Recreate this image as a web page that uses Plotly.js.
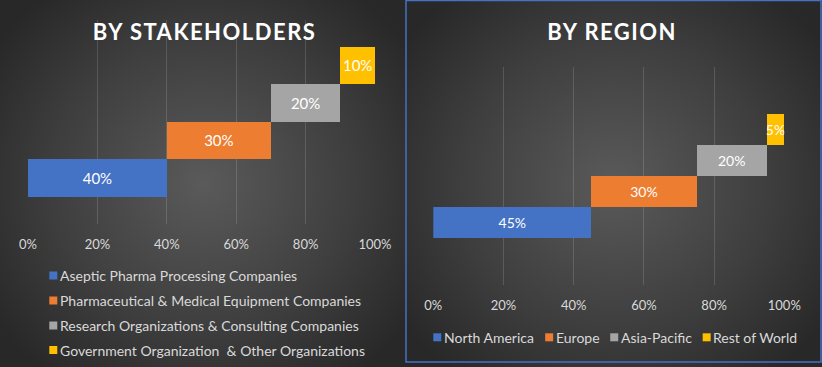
<!DOCTYPE html>
<html>
<head>
<meta charset="utf-8">
<script src="https://cdn.plot.ly/plotly-3.0.1.min.js"></script>
<style>
  html, body { margin: 0; padding: 0; background: #2a2a2a; }
  #wrap { position: relative; width: 822px; height: 367px; overflow: hidden; }
  .bg { position: absolute; top: 0; height: 367px; }
  #bgL { left: 0; width: 406px; background: radial-gradient(ellipse 62% 66% at 50% 50%, #5a5a5a 0%, #3e3e3e 60%, #282828 100%); }
  #bgR { left: 406px; width: 416px; background: radial-gradient(ellipse 62% 66% at 50% 50%, #5a5a5a 0%, #3e3e3e 60%, #282828 100%); }
  #chart { position: absolute; left: 0; top: 0; width: 822px; height: 367px; }
  #chart .annotation-text.title-text { letter-spacing: 1.5px; }
</style>
</head>
<body>
<div id="wrap">
  <div class="bg" id="bgL"></div>
  <div class="bg" id="bgR"></div>
  <div id="chart"></div>
</div>
<script>
// ---- data ----
const stakeCats = [
  "Aseptic Pharma Processing Companies",
  "Pharmaceutical & Medical Equipment Companies",
  "Research Organizations & Consulting Companies",
  "Government Organization  & Other Organizations"
];
const stakeVals = [40, 30, 20, 10];
const regionCats = ["North America", "Europe", "Asia-Pacific", "Rest of World"];
const regionVals = [45, 30, 20, 5];
const tickVals = [0, 20, 40, 60, 80, 100];
const tickText = ["0%", "20%", "40%", "60%", "80%", "100%"];
const colors = ["#4472C4", "#ED7D31", "#A5A5A5", "#FFC000"];

const FONT = "Lato, 'Open Sans', sans-serif";
const W = 822, H = 367;
const px = v => v / W;
const py = v => (H - v) / H;
const LEGFS = 14;

function buildTraces(cats, vals, xa, ya, fontSize) {
  const traces = [];
  let cum = 0;
  cats.forEach((c, i) => {
    traces.push({
      type: "bar",
      orientation: "h",
      name: c,
      x: [vals[i]],
      base: [cum],
      y: [i],
      width: [1],
      xaxis: xa,
      yaxis: ya,
      showlegend: false,
      marker: { color: colors[i], line: { width: 0 } },
      text: [vals[i] + "%"],
      textposition: "inside",
      insidetextanchor: "middle",
      textangle: 0,
      constraintext: "none",
      textfont: { color: "#ffffff", size: fontSize, family: FONT },
      hoverinfo: "skip"
    });
    cum += vals[i];
  });
  return traces;
}

const data = [].concat(
  buildTraces(stakeCats, stakeVals, "x", "y", 15),
  buildTraces(regionCats, regionVals, "x2", "y2", 14)
);

const xCommon = {
  range: [0, 100],
  tickvals: tickVals,
  ticktext: tickText,
  showgrid: true,
  gridcolor: "rgba(255,255,255,0.14)",
  gridwidth: 1,
  zeroline: false,
  showline: false,
  ticks: "",
  tickfont: { color: "#d9d9d9", size: 13, family: FONT },
  fixedrange: true,
  automargin: false
};
const yCommon = {
  showgrid: false, zeroline: false, showline: false,
  showticklabels: false, ticks: "", fixedrange: true, automargin: false
};

// ---- titles, frame, legends drawn with shapes + annotations ----
const annotations = [
  { text: "<b>BY STAKEHOLDERS</b>", xref: "paper", yref: "paper", x: px(204), y: py(31),
    xanchor: "center", yanchor: "middle", showarrow: false,
    font: { color: "#ffffff", size: 22, family: FONT } },
  { text: "<b>BY REGION</b>", xref: "paper", yref: "paper", x: px(612), y: py(31),
    xanchor: "center", yanchor: "middle", showarrow: false,
    font: { color: "#ffffff", size: 22, family: FONT } }
];
const shapes = [
  { type: "rect", xref: "paper", yref: "paper",
    x0: px(406), x1: px(821), y0: py(362), y1: py(0.5),
    line: { color: "#4472C4", width: 1.5 }, fillcolor: "rgba(0,0,0,0)", layer: "above" }
];
const SQ = 8, GAP = 3.5, ITEMGAP = 10;
function legendSquare(cx, cy, color) {
  shapes.push({ type: "rect", xref: "paper", yref: "paper",
    x0: px(cx - SQ / 2), x1: px(cx + SQ / 2), y0: py(cy + SQ / 2), y1: py(cy - SQ / 2),
    line: { width: 0 }, fillcolor: color, layer: "above" });
}
function legendText(x, cy, txt) {
  annotations.push({ text: txt.replace(/  /g, " &nbsp;"), xref: "paper", yref: "paper", x: px(x), y: py(cy),
    xanchor: "left", yanchor: "middle", showarrow: false,
    font: { color: "#d9d9d9", size: LEGFS, family: FONT } });
}
// left: vertical legend
const leftRows = [275.5, 300.5, 325.5, 350];
stakeCats.forEach((c, i) => {
  legendSquare(53.3, leftRows[i], colors[i]);
  legendText(53.3 + SQ / 2 + GAP - 3, leftRows[i], c);
});
// right: horizontal legend, centered
const ctx = document.createElement("canvas").getContext("2d");
ctx.font = LEGFS + "px Lato";
const widths = regionCats.map(c => ctx.measureText(c).width);
const total = widths.reduce((a, w) => a + SQ + GAP + w, 0) + ITEMGAP * (regionCats.length - 1);
let cursor = 616 - total / 2;
regionCats.forEach((c, i) => {
  legendSquare(cursor + SQ / 2, 337.3, colors[i]);
  legendText(cursor + SQ + GAP - 3, 337.3, c);
  cursor += SQ + GAP + widths[i] + ITEMGAP;
});

const layout = {
  width: W,
  height: H,
  margin: { l: 0, r: 0, t: 0, b: 0, pad: 0 },
  paper_bgcolor: "rgba(0,0,0,0)",
  plot_bgcolor: "rgba(0,0,0,0)",
  barmode: "overlay",
  bargap: 0,
  showlegend: false,
  font: { family: FONT, color: "#d9d9d9" },
  xaxis: Object.assign({}, xCommon, { domain: [px(28), px(375)], anchor: "y", ticklabelstandoff: 11 }),
  yaxis: Object.assign({}, yCommon, { domain: [py(224), py(20)], range: [-1.227, 4.213], anchor: "x" }),
  xaxis2: Object.assign({}, xCommon, { domain: [px(433.3), px(784.3)], anchor: "y2", ticklabelstandoff: 11 }),
  yaxis2: Object.assign({}, yCommon, { domain: [py(285), py(67)], range: [-2.03, 5.0], anchor: "x2" }),
  annotations: annotations,
  shapes: shapes
};

Plotly.newPlot("chart", data, layout, { displayModeBar: false, staticPlot: true }).then(() => {
  document.querySelectorAll("#chart .annotation-text").forEach(t => {
    if (/BY /.test(t.textContent)) t.classList.add("title-text");
  });
});
</script>
</body>
</html>
